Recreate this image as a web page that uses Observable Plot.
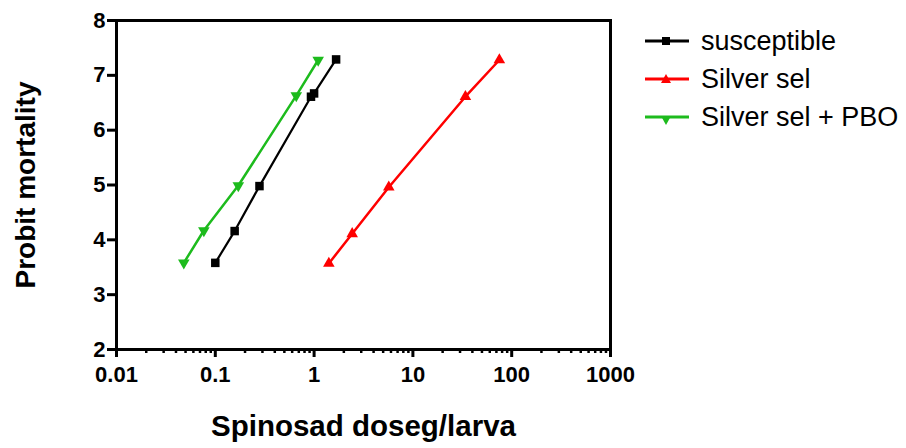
<!DOCTYPE html>
<html><head><meta charset="utf-8">
<script src="https://cdn.jsdelivr.net/npm/d3@7"></script>
<script src="https://cdn.jsdelivr.net/npm/@observablehq/plot@0.6"></script>
<style>
body{margin:0;background:#fff;font-family:"Liberation Sans",Arial,sans-serif;}
#wrap{position:relative;width:906px;height:448px;}
#legend{position:absolute;left:643px;top:22px;font-size:27px;color:#000;}
.row{display:flex;align-items:center;height:38px;}
.row svg{margin-right:10px;}
</style></head><body>
<div id="wrap"><div id="chart"></div><div id="legend"></div></div>
<script>
const seriesNames = ["susceptible", "Silver sel", "Silver sel + PBO"];
const seriesColors = ["#000000", "#ff0000", "#1dbb1d"];
const susceptibleDose = [0.1, 0.157, 0.28, 0.93, 1.0, 1.67];
const susceptibleProbit = [3.58, 4.16, 4.98, 6.61, 6.67, 7.29];
const silverDose = [1.41, 2.43, 5.7, 34, 75];
const silverProbit = [3.57, 4.11, 4.96, 6.61, 7.28];
const pboDose = [0.048, 0.0766, 0.171, 0.66, 1.1];
const pboProbit = [3.58, 4.17, 4.99, 6.63, 7.28];
const xTicks = [0.01, 0.1, 1, 10, 100, 1000];
const yTicks = [2, 3, 4, 5, 6, 7, 8];

const minorTicks = [];
for (const d of xTicks.slice(0, -1)) for (let k = 2; k <= 9; k++) minorTicks.push(d * k);

const rows = [];
[[susceptibleDose, susceptibleProbit], [silverDose, silverProbit], [pboDose, pboProbit]].forEach(([xs, ys], i) => {
  xs.forEach((x, j) => rows.push({series: seriesNames[i], dose: x, probit: ys[j]}));
});

const font = "Liberation Sans, Arial, sans-serif";
const pick = i => rows.filter(d => d.series === seriesNames[i]);

const chart = Plot.plot({
  width: 906, height: 448,
  marginLeft: 116, marginRight: 296, marginTop: 20, marginBottom: 99,
  style: {fontFamily: font, background: "#fff", color: "#000"},
  x: {type: "log", domain: [0.01, 1000]},
  y: {domain: [2, 8]},
  marks: [
    Plot.axisX({ticks: minorTicks, tickSize: 4, tickFormat: () => "", strokeWidth: 2.5, label: null}),
    Plot.axisX({ticks: xTicks, tickSize: 8, tickPadding: 9, strokeWidth: 3,
      tickFormat: d => String(d), fontSize: 22, fontWeight: "bold", label: null}),
    Plot.axisY({ticks: yTicks, tickSize: 9, tickPadding: 2, strokeWidth: 3,
      tickFormat: d => String(d), fontSize: 22, fontWeight: "bold", label: null}),
    Plot.frame({stroke: "#000", strokeWidth: 3}),
    Plot.line(pick(0), {x: "dose", y: "probit", stroke: seriesColors[0], strokeWidth: 2.2}),
    Plot.line(pick(1), {x: "dose", y: "probit", stroke: seriesColors[1], strokeWidth: 2.5}),
    Plot.line(pick(2), {x: "dose", y: "probit", stroke: seriesColors[2], strokeWidth: 2.5}),
    Plot.dot(pick(0), {x: "dose", y: "probit", symbol: "square", fill: seriesColors[0], r: 4.8}),
    Plot.dot(pick(1), {x: "dose", y: "probit", symbol: "triangle", fill: seriesColors[1], r: 4.3}),
    Plot.dot(pick(2), {x: "dose", y: "probit", symbol: "triangle", rotate: 180, fill: seriesColors[2], r: 4.3}),
    Plot.text(["Spinosad doseg/larva"], {frameAnchor: "bottom", dy: 86, fontSize: 29.5, fontWeight: "bold", fill: "#000"}),
    Plot.text(["Probit mortality"], {frameAnchor: "left", textAnchor: "middle", dx: -90, rotate: -90, fontSize: 28, fontWeight: "bold", fill: "#000"})
  ]
});
document.getElementById("chart").appendChild(chart);

const syms = ["square", "up", "down"];
const legend = document.getElementById("legend");
seriesNames.forEach((name, i) => {
  const row = document.createElement("div");
  row.className = "row";
  let marker = "";
  if (syms[i] === "square") marker = `<rect x="19" y="6" width="8" height="8" fill="${seriesColors[i]}"/>`;
  else if (syms[i] === "up") marker = `<polygon points="23,5 28,14 18,14" fill="${seriesColors[i]}"/>`;
  else marker = `<polygon points="18,9 28,9 23,18" fill="${seriesColors[i]}"/>`;
  row.innerHTML = `<svg width="48" height="20"><line x1="2" x2="46" y1="10" y2="10" stroke="${seriesColors[i]}" stroke-width="3"/>${marker}</svg><span>${name}</span>`;
  legend.appendChild(row);
});
</script>
</body></html>
